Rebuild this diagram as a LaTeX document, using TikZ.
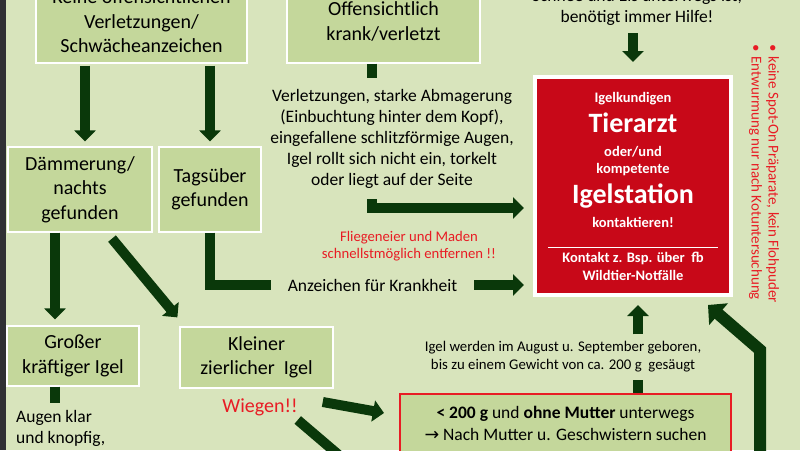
\documentclass[tikz,border=0pt]{standalone}
\usepackage{fontspec}
\setmainfont{Carlito}
\newfontfamily\symbolschrift{DejaVu Sans}
\usepackage{xcolor}
\usepackage{tikz}
\usetikzlibrary{arrows.meta,calc}

\definecolor{hintergrund}{RGB}{216,228,188}
\definecolor{kastengruen}{RGB}{196,215,155}
\definecolor{pfeilgruen}{RGB}{10,56,10}
\definecolor{warnrot}{RGB}{200,8,24}
\definecolor{textrot}{RGB}{232,28,36}
\definecolor{randgrau}{RGB}{48,48,52}

\tikzset{
	kasten/.style={draw=white, line width=1.2pt, fill=kastengruen, align=center, inner sep=0pt, font=\fontsize{20}{24.5}\selectfont},
	pfeil/.style={draw=pfeilgruen, line width=10pt, line join=miter, -{Triangle[length=11pt,width=21pt]}},
	stummel/.style={draw=pfeilgruen, line width=10pt, line join=miter},
	fliesstext/.style={align=center, inner sep=0pt, font=\fontsize{17.5}{21}\selectfont},
	hinweis/.style={text=textrot, align=center, inner sep=0pt, font=\fontsize{14.7}{17.5}\selectfont},
	weiss/.style={text=white, inner sep=0pt, anchor=base, font=\bfseries\fontsize{14.5}{17}\selectfont},
	weissgross/.style={weiss, font=\bfseries\fontsize{28}{32}\selectfont},
}

\begin{document}
\begin{tikzpicture}[x=1pt,y=-1pt]
	\useasboundingbox (0,0) rectangle (800,450);
	\clip (0,0) rectangle (800,450);
	\fill[hintergrund] (0,0) rectangle (800,450);
	\fill[randgrau] (0,0) rectangle (6,450);

	\node(keine)[kasten, minimum width=211pt, minimum height=83pt] at (141.5,21.5) {Keine offensichtlichen\\Verletzungen/\\Schwächeanzeichen};
	\node(offen)[kasten, minimum width=193pt, minimum height=83pt] at (383.5,21.5) {Offensichtlich\\krank/verletzt};
	\node(hilfe)[fliesstext, anchor=south] at (637,26) {Schnee und Eis unterwegs ist,\\benötigt immer Hilfe!};

	\node(daemmerung)[kasten, minimum width=144pt, minimum height=85pt] at (80,189.5) {Dämmerung/\\nachts\\gefunden};
	\node(tagsueber)[kasten, minimum width=102pt, minimum height=85pt] at (210,189.5) {Tagsüber\\gefunden};
	\node(verletzung)[fliesstext, inner ysep=11pt] at (392,138.5) {Verletzungen, starke Abmagerung\\(Einbuchtung hinter dem Kopf),\\eingefallene schlitzförmige Augen,\\Igel rollt sich nicht ein, torkelt\\oder liegt auf der Seite};
	\node(maden)[hinweis] at (409,246) {Fliegeneier und Maden\\schnellstmöglich entfernen !!};
	\node(anzeichen)[fliesstext, inner xsep=17pt] at (372.5,285) {Anzeichen für Krankheit};

	\node(tierarzt)[draw=white, line width=4pt, fill=warnrot, minimum width=196pt, minimum height=218pt, inner sep=0pt] at (633,186) {};
	\node(igelkundigen)[weiss] at (633,102) {Igelkundigen};
	\node(tierarztText)[weissgross] at (633,132) {Tierarzt};
	\node(oderund)[weiss] at (633,156) {oder/und};
	\node(kompetente)[weiss] at (633,173) {kompetente};
	\node(igelstation)[weissgross] at (633,203) {Igelstation};
	\node(kontaktieren)[weiss] at (633,227) {kontaktieren!};
	\draw[white, line width=1pt] (548,247) -- (718,247);
	\node(kontakt)[weiss] at (633,262) {Kontakt z. Bsp. über~ fb};
	\node(wildtier)[weiss] at (633,280) {Wildtier-Notfälle};

	\node(hinweise)[text=textrot, rotate=-90, anchor=west, align=left, inner sep=0pt, font=\fontsize{15}{17}\selectfont] at (764,44) {•\hspace{5pt}keine Spot-On Präparate, kein Flohpuder\\•\hspace{5pt}Entwurmung nur nach Kotuntersuchung};

	\node(grosser)[kasten, minimum width=132pt, minimum height=60pt] at (73,356) {Großer\\kräftiger Igel};
	\node(kleiner)[kasten, minimum width=153pt, minimum height=61pt] at (256.5,357.5) {Kleiner\\zierlicher~ Igel};
	\node(augen)[fliesstext, align=left, anchor=north west, inner xsep=0pt, inner ysep=7pt] at (16,403) {Augen klar\\und knopfig,};
	\node(wiegen)[text=textrot, inner sep=0pt, font=\fontsize{20}{24}\selectfont] at (260,407.5) {Wiegen!!};
	\node(august)[fliesstext, font=\fontsize{14.8}{18}\selectfont, inner ysep=7pt] at (563,357) {Igel werden im August u. September geboren,\\bis zu einem Gewicht von ca. 200 g~ gesäugt};
	\node(unter200)[kasten, draw=textrot, line width=2pt, minimum width=331pt, minimum height=58pt, font=\fontsize{17.5}{22}\selectfont] at (565.5,423) {\textbf{< 200 g} und \textbf{ohne Mutter} unterwegs\\{\symbolschrift →} Nach Mutter u. Geschwistern suchen};

	\coordinate(weiter) at (368,480);
	\coordinate(unten) at (760,470);
	\coordinate(knick) at (760,350);

	\draw[pfeil, shorten <=2pt, shorten >=5pt] ([xshift=5pt]daemmerung.north |- keine.south) -- ([xshift=5pt]daemmerung.north);
	\draw[pfeil, shorten <=2pt, shorten >=5pt] (tagsueber.north |- keine.south) -- (tagsueber.north);
	\draw[stummel] ([xshift=-20pt]verletzung.north |- offen.south) -- ([xshift=-20pt]verletzung.north);
	\draw[pfeil, shorten >=9pt] ([xshift=-20pt]verletzung.south) |- ([yshift=-22pt]tierarzt.west);
	\draw[pfeil, shorten <=7pt, shorten >=13pt] (hilfe.south -| tierarzt.north) -- (tierarzt.north);
	\draw[stummel] (tagsueber.south) |- (anzeichen.west);
	\draw[pfeil, shorten >=9pt] (anzeichen.east) -- (anzeichen.east -| tierarzt.west);
	\draw[pfeil, shorten >=6pt] ([xshift=-25pt]daemmerung.south) -- ([xshift=-25pt]daemmerung.south |- grosser.north);
	\draw[pfeil] ([xshift=32pt,yshift=-6pt]daemmerung.south) -- ([xshift=-2pt,yshift=9pt]kleiner.north west);
	\draw[stummel] ([xshift=-18pt]grosser.south) -- ([xshift=-18pt]grosser.south |- augen.north);
	\draw[pfeil] ([xshift=25pt,yshift=5.5pt]wiegen.east) -- ([xshift=-15pt,yshift=10pt]unter200.west);
	\draw[pfeil] ([yshift=-12.5pt]wiegen.east) -- (weiter);
	\draw[stummel] ([xshift=5pt]tierarzt.south |- unter200.north) -- ([xshift=5pt]tierarzt.south |- august.south);
	\draw[pfeil, shorten >=8pt] ([xshift=5pt]tierarzt.south |- august.north) -- ([xshift=5pt]tierarzt.south);
	\draw[pfeil, line width=12pt, -{Triangle[length=14pt,width=28pt]}] (unten) -- (knick) -- ([xshift=-25pt,yshift=-8pt]tierarzt.south east);
\end{tikzpicture}
\end{document}
